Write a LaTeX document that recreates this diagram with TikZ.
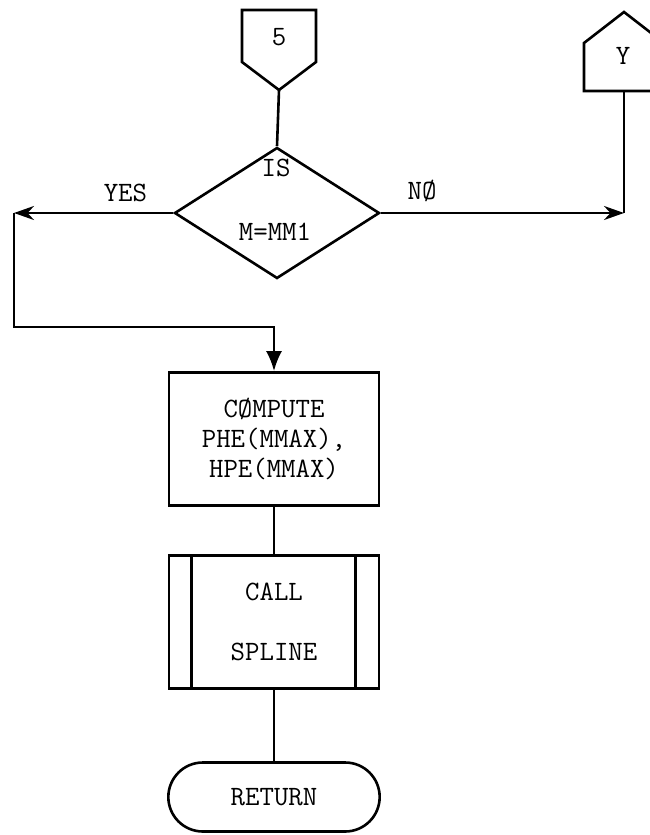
\documentclass[tikz,border=0pt]{standalone}
\usepackage{tikz}
\usetikzlibrary{arrows.meta,calc,positioning,shapes.geometric,shapes.misc}

\begin{document}
\begin{tikzpicture}[
  x=1pt,y=-1pt,
  line/.style={draw=black,line width=2.6pt,line join=miter},
  flow/.style={line,-{Stealth[length=20pt,width=14pt]}},
  down/.style={line,-{Latex[length=20pt,width=16pt]}},
  txt/.style={font=\ttfamily\fontsize{28}{30}\selectfont,inner sep=0pt},
  decision/.style={line,diamond,minimum width=205pt,minimum height=131pt,inner sep=0pt},
  process/.style={line,rectangle,minimum width=210pt,minimum height=133pt,align=center,
    font=\ttfamily\fontsize{28}{30}\selectfont},
  terminal/.style={line,rounded rectangle,minimum width=218pt,minimum height=69pt,
    font=\ttfamily\fontsize{28}{30}\selectfont}
]
\useasboundingbox (0,0) rectangle (649,835);

% off-page connectors
\draw[line] (242,10) -- (316,10) -- (316,62) -- (279,90) -- (242,62) -- cycle;
\node[txt] (five) at (279,37) {5};
\coordinate (fiveb) at (279,90);
\draw[line] (584,91) -- (584,43) -- (624,12) -- (664,43) -- (664,91) -- cycle;
\node[txt] (ycon) at (623,56) {Y};
\coordinate (yb) at (624,91);

% decision
\node[decision] (dec) at (277,213) {};
\node[txt] (decis) at (276,168) {IS};
\node[txt] (decm) at (275,232) {M=MM1};

% boxes
\node[process] (comp) at (274,439) {CØMPUTE\\PHE(MMAX),\\ HPE(MMAX)};
\node[process] (call) at (274,622) {CALL\\[30pt]SPLINE};
\draw[line] ($(call.north west)+(24,0)$) -- ($(call.south west)+(24,0)$);
\draw[line] ($(call.north east)+(-25,0)$) -- ($(call.south east)+(-25,0)$);
\node[terminal] (ret) at (274,797) {RETURN};

% connectors
\coordinate (yesend) at (14,213);
\coordinate (loop) at (14,327);
\coordinate (ncorner) at (624,213);
\draw[line] (fiveb) -- (dec.north);
\draw[flow] (dec.west) -- node[txt,above=10pt,pos=0.3] (yes) {YES} (yesend);
\draw[down] (yesend) -- (loop) -| (comp.north);
\draw[flow] (dec.east) -- node[txt,above=10pt,pos=0.17] (no) {NØ} (ncorner);
\draw[line] (ncorner) -- (yb);
\draw[line] (comp.south) -- (call.north);
\draw[line] (call.south) -- (ret.north);
\end{tikzpicture}
\end{document}
